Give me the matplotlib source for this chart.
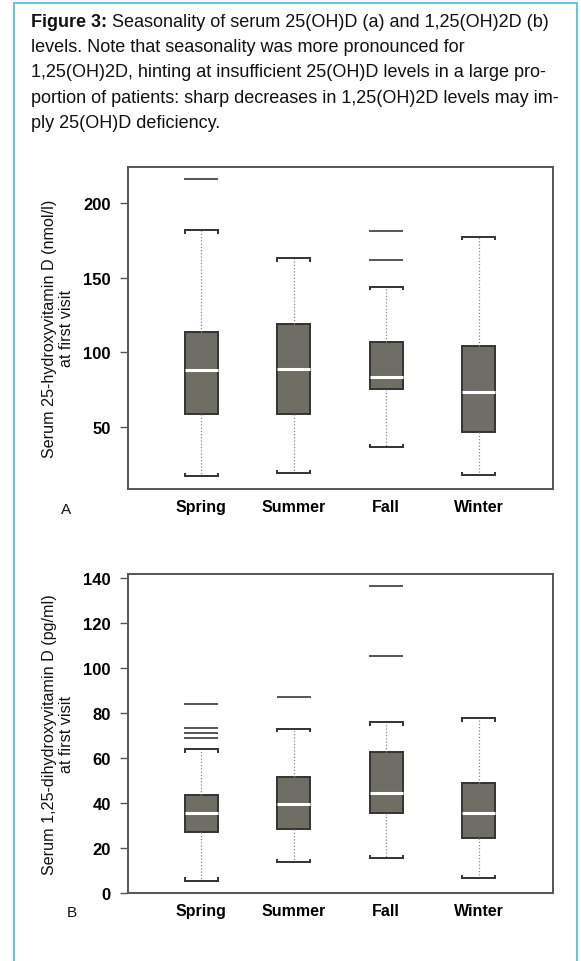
import matplotlib.pyplot as plt
from matplotlib.patches import Rectangle

plt.rcParams['font.family'] = ['Liberation Sans', 'DejaVu Sans']

seasons = ['Spring', 'Summer', 'Fall', 'Winter']

# panel A: serum 25(OH)D, nmol/l
a_low = [16.7, 19.0, 36.3, 17.6]
a_q1 = [58.7, 58.7, 75.0, 46.2]
a_med = [88.0, 88.9, 83.3, 73.1]
a_q3 = [113.2, 118.8, 106.9, 104.0]
a_high = [181.8, 162.9, 144.0, 177.5]
a_out = [[216.0], [], [162.0, 181.1], []]

# panel B: serum 1,25(OH)2D, pg/ml
b_low = [5.5, 13.6, 15.5, 6.6]
b_q1 = [27.3, 28.4, 35.6, 24.4]
b_med = [35.6, 39.4, 44.5, 35.6]
b_q3 = [43.6, 51.7, 62.6, 48.7]
b_high = [63.8, 73.0, 75.9, 77.5]
b_out = [[68.7, 70.9, 73.1, 83.9], [87.1], [105.3, 136.5], []]

caption = [
    " Seasonality of serum 25(OH)D (a) and 1,25(OH)2D (b)",
    "levels. Note that seasonality was more pronounced for",
    "1,25(OH)2D, hinting at insufficient 25(OH)D levels in a large pro-",
    "portion of patients: sharp decreases in 1,25(OH)2D levels may im-",
    "ply 25(OH)D deficiency.",
]

W, H = 581, 962
fig = plt.figure(figsize=(W / 100, H / 100), dpi=100)
fig.patch.set_facecolor('white')


def panel(rect, low, q1, med, q3, high, out, ylim, yticks, ylabel, letter, letter_xy):
    ax = fig.add_axes(rect)
    stats = []
    for i in range(len(seasons)):
        stats.append(dict(whislo=low[i], q1=q1[i], med=med[i], q3=q3[i],
                          whishi=high[i], fliers=out[i], label=seasons[i]))
    pos = [1, 2, 3, 4]
    bw = 0.36
    ax.bxp(stats, positions=pos, widths=bw, capwidths=bw, patch_artist=True,
           boxprops=dict(facecolor='#6e6e64', edgecolor='#333333', linewidth=1.4),
           medianprops=dict(color='white', linewidth=2.2),
           whiskerprops=dict(color='#8c8c8c', linewidth=0.9, linestyle=(0, (1, 1.6))),
           capprops=dict(color='#333333', linewidth=1.4),
           flierprops=dict(marker='_', markersize=24, markeredgewidth=1.4,
                           markeredgecolor='#555555'))
    ax.set_xlim(0.2, 4.8)
    ax.set_ylim(*ylim)
    # small bracket ends on the whisker caps
    du = (ylim[1] - ylim[0]) / (rect[3] * H) * 3.5
    for i, p in enumerate(pos):
        for x in (p - bw / 2, p + bw / 2):
            ax.vlines(x, high[i] - du, high[i], color='#333333', lw=1.4)
            ax.vlines(x, low[i], low[i] + du, color='#333333', lw=1.4)
    ax.set_yticks(yticks)
    ax.set_xticks(pos)
    ax.set_xticklabels(seasons, fontsize=11.5, fontweight='bold')
    for t in ax.get_yticklabels():
        t.set_fontsize(12)
        t.set_fontweight('bold')
    ax.tick_params(axis='y', length=6, width=1, color='#555555', pad=6)
    ax.tick_params(axis='x', length=0, pad=7)
    for s in ax.spines.values():
        s.set_color('#555555')
        s.set_linewidth(1.4)
    cy = rect[1] + rect[3] / 2
    fig.text(58 / W, cy, ylabel, rotation=90, ha='center', va='center',
             multialignment='center', fontsize=11.6, linespacing=1.1, color='#111111')
    fig.text(letter_xy[0] / W, 1 - letter_xy[1] / H, letter, ha='center', va='center',
             fontsize=11, color='#111111')
    return ax


panel([127.5 / W, 1 - 490 / H, 425 / W, (490 - 167.7) / H],
      a_low, a_q1, a_med, a_q3, a_high, a_out, (8.3, 224.3), [50, 100, 150, 200],
      'Serum 25-hydroxyvitamin D (nmol/l)\nat first visit', 'A', (66.5, 510))

panel([127.5 / W, 1 - 894 / H, 425 / W, (894 - 574.7) / H],
      b_low, b_q1, b_med, b_q3, b_high, b_out, (0.2, 141.8), [0, 20, 40, 60, 80, 100, 120, 140],
      'Serum 1,25-dihydroxyvitamin D (pg/ml)\nat first visit', 'B', (72, 913))

# caption
x0, base0, step = 31, 27, 25.2
bold = fig.text(x0 / W, 1 - base0 / H, 'Figure 3:', fontsize=13, fontweight='bold',
                va='baseline', color='#111111')
fig.canvas.draw()
bb = bold.get_window_extent()
fig.text(bb.x1 / W, 1 - base0 / H, caption[0], fontsize=13, va='baseline', color='#111111')
for i, line in enumerate(caption[1:], start=1):
    fig.text(x0 / W, 1 - (base0 + i * step) / H, line, fontsize=13, va='baseline',
             color='#111111')

# cyan frame around the figure, open at the bottom
fig.add_artist(Rectangle((14 / W, -0.02), (577 - 14) / W, 1.02 - 4.3 / H,
                         transform=fig.transFigure, fill=False,
                         edgecolor='#5ec8d8', linewidth=1.4))

fig.savefig('out.png', dpi=100)
